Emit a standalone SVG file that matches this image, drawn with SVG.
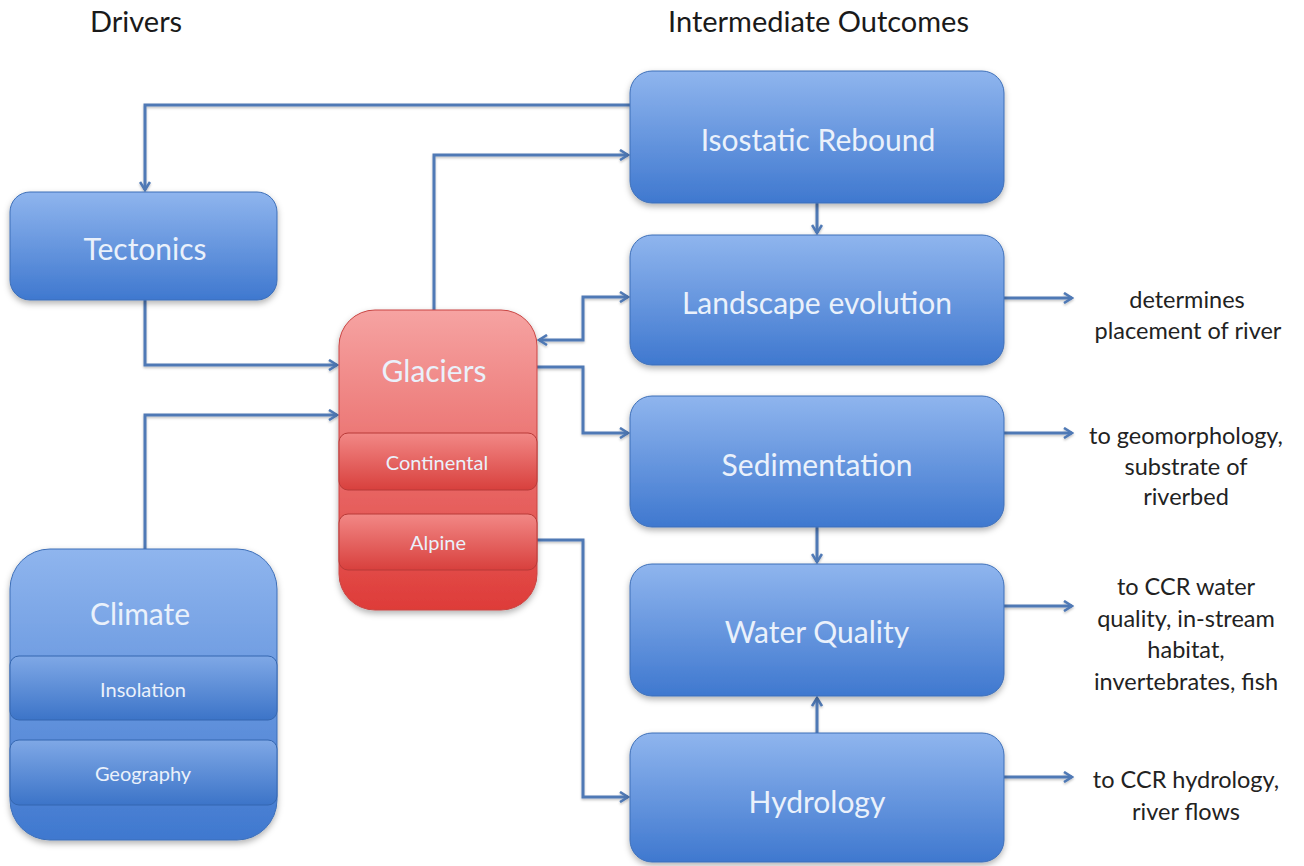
<svg xmlns="http://www.w3.org/2000/svg" width="1304" height="866" viewBox="0 0 1304 866">
  <style>
    .title { font-family: Lato, "Open Sans", sans-serif; font-size: 29px; fill: #1a1a1a; }
    .big { font-family: Lato, "Open Sans", sans-serif; font-size: 30px; fill: #eaf1fb; text-anchor: middle; }
    .small { font-family: Lato, "Open Sans", sans-serif; font-size: 20px; fill: #eaf1fb; text-anchor: middle; }
    .note { font-family: Lato, "Open Sans", sans-serif; font-size: 23.5px; fill: #222222; text-anchor: middle; }
    .conn { fill: none; stroke: #4f79b5; stroke-width: 3; stroke-linejoin: miter; }
  </style>
  <defs>
    <linearGradient id="blue" x1="0" y1="0" x2="0" y2="1">
      <stop offset="0" stop-color="#8fb5ee"/>
      <stop offset="1" stop-color="#3f78cf"/>
    </linearGradient>
    <linearGradient id="blueBand" x1="0" y1="0" x2="0" y2="1">
      <stop offset="0" stop-color="#7fa8e6"/>
      <stop offset="1" stop-color="#3c74c8"/>
    </linearGradient>
    <linearGradient id="red" x1="0" y1="0" x2="0" y2="1">
      <stop offset="0" stop-color="#f6a3a2"/>
      <stop offset="1" stop-color="#de3b38"/>
    </linearGradient>
    <linearGradient id="redBand" x1="0" y1="0" x2="0" y2="1">
      <stop offset="0" stop-color="#f28886"/>
      <stop offset="1" stop-color="#d8403d"/>
    </linearGradient>
    <filter id="shadow" x="-10%" y="-10%" width="120%" height="130%">
      <feDropShadow dx="0" dy="3" stdDeviation="3" flood-color="#000" flood-opacity="0.3"/>
    </filter>
    <filter id="lineShadow" x="-5%" y="-5%" width="110%" height="110%">
      <feDropShadow dx="0" dy="1.5" stdDeviation="1" flood-color="#000" flood-opacity="0.25"/>
    </filter>
    <marker id="arrow" viewBox="0 0 12 12" refX="10" refY="6" markerWidth="12" markerHeight="12" markerUnits="userSpaceOnUse" orient="auto-start-reverse">
      <path d="M2,1 L10,6 L2,11" fill="none" stroke="#4f79b5" stroke-width="2.6" stroke-linejoin="miter"/>
    </marker>
  </defs>

  <rect width="1304" height="866" fill="#ffffff"/>

  <!-- column headings -->
  <text class="title" x="90" y="32">Drivers</text>
  <text class="title" x="668" y="32">Intermediate Outcomes</text>

  <!-- connectors -->
  <g id="connectors" filter="url(#lineShadow)">
    <path class="conn" d="M630,105 H145 V190" marker-end="url(#arrow)"/>
    <path class="conn" d="M434,310 V155 H628" marker-end="url(#arrow)"/>
    <path class="conn" d="M145,300 V365 H337" marker-end="url(#arrow)"/>
    <path class="conn" d="M145,549 V415 H337" marker-end="url(#arrow)"/>
    <path class="conn" d="M539,340 H583 V297 H628" marker-start="url(#arrow)" marker-end="url(#arrow)"/>
    <path class="conn" d="M537,367 H583 V433 H628" marker-end="url(#arrow)"/>
    <path class="conn" d="M537,540 H583 V797 H628" marker-end="url(#arrow)"/>
    <path class="conn" d="M817,203 V233" marker-end="url(#arrow)"/>
    <path class="conn" d="M817,527 V562" marker-end="url(#arrow)"/>
    <path class="conn" d="M817,733 V698" marker-end="url(#arrow)"/>
    <path class="conn" d="M1004,298 H1072" marker-end="url(#arrow)"/>
    <path class="conn" d="M1004,433 H1072" marker-end="url(#arrow)"/>
    <path class="conn" d="M1004,606 H1072" marker-end="url(#arrow)"/>
    <path class="conn" d="M1004,777 H1072" marker-end="url(#arrow)"/>
  </g>

  <!-- drivers -->
  <g id="tectonics">
    <rect x="10" y="192" width="267" height="108" rx="20" fill="url(#blue)" stroke="#3d6fb8" stroke-width="1" filter="url(#shadow)"/>
    <text class="big" x="145" y="260">Tectonics</text>
  </g>

  <g id="climate">
    <rect x="10" y="549" width="267" height="291" rx="40" fill="url(#blue)" stroke="#3d6fb8" stroke-width="1" filter="url(#shadow)"/>
    <text class="big" x="140" y="625">Climate</text>
    <g id="insolation">
      <rect x="10" y="656" width="267" height="64" rx="9" fill="url(#blueBand)" stroke="#3567b0" stroke-width="1"/>
      <text class="small" x="143" y="697">Insolation</text>
    </g>
    <g id="geography">
      <rect x="10" y="740" width="267" height="65" rx="9" fill="url(#blueBand)" stroke="#3567b0" stroke-width="1"/>
      <text class="small" x="143" y="781">Geography</text>
    </g>
  </g>

  <g id="glaciers">
    <rect x="339" y="310" width="198" height="300" rx="36" fill="url(#red)" stroke="#c94442" stroke-width="1" filter="url(#shadow)"/>
    <text class="big" x="434" y="382">Glaciers</text>
    <g id="continental">
      <rect x="339" y="433" width="198" height="57" rx="9" fill="url(#redBand)" stroke="#b83a38" stroke-width="1"/>
      <text class="small" x="437" y="470">Continental</text>
    </g>
    <g id="alpine">
      <rect x="339" y="514" width="198" height="56" rx="9" fill="url(#redBand)" stroke="#b83a38" stroke-width="1"/>
      <text class="small" x="438" y="550">Alpine</text>
    </g>
  </g>

  <!-- intermediate outcomes -->
  <g id="isostatic-rebound">
    <rect x="630" y="71" width="374" height="132" rx="22" fill="url(#blue)" stroke="#3d6fb8" stroke-width="1" filter="url(#shadow)"/>
    <text class="big" x="818" y="151">Isostatic Rebound</text>
  </g>
  <g id="landscape-evolution">
    <rect x="630" y="235" width="374" height="130" rx="22" fill="url(#blue)" stroke="#3d6fb8" stroke-width="1" filter="url(#shadow)"/>
    <text class="big" x="817" y="314">Landscape evolution</text>
  </g>
  <g id="sedimentation">
    <rect x="630" y="396" width="374" height="131" rx="22" fill="url(#blue)" stroke="#3d6fb8" stroke-width="1" filter="url(#shadow)"/>
    <text class="big" x="817" y="476">Sedimentation</text>
  </g>
  <g id="water-quality">
    <rect x="630" y="564" width="374" height="132" rx="22" fill="url(#blue)" stroke="#3d6fb8" stroke-width="1" filter="url(#shadow)"/>
    <text class="big" x="817" y="643">Water Quality</text>
  </g>
  <g id="hydrology">
    <rect x="630" y="733" width="374" height="129" rx="22" fill="url(#blue)" stroke="#3d6fb8" stroke-width="1" filter="url(#shadow)"/>
    <text class="big" x="817" y="813">Hydrology</text>
  </g>

  <!-- downstream effects -->
  <g id="note-landscape">
    <text class="note" x="1187" y="308">determines</text>
    <text class="note" x="1188" y="339">placement of river</text>
  </g>
  <g id="note-sedimentation">
    <text class="note" x="1186" y="444">to geomorphology,</text>
    <text class="note" x="1186" y="475">substrate of</text>
    <text class="note" x="1186" y="505">riverbed</text>
  </g>
  <g id="note-water-quality">
    <text class="note" x="1186" y="595">to CCR water</text>
    <text class="note" x="1186" y="627">quality, in-stream</text>
    <text class="note" x="1186" y="658">habitat,</text>
    <text class="note" x="1186" y="690">invertebrates, fish</text>
  </g>
  <g id="note-hydrology">
    <text class="note" x="1186" y="788">to CCR hydrology,</text>
    <text class="note" x="1186" y="820">river flows</text>
  </g>
</svg>
